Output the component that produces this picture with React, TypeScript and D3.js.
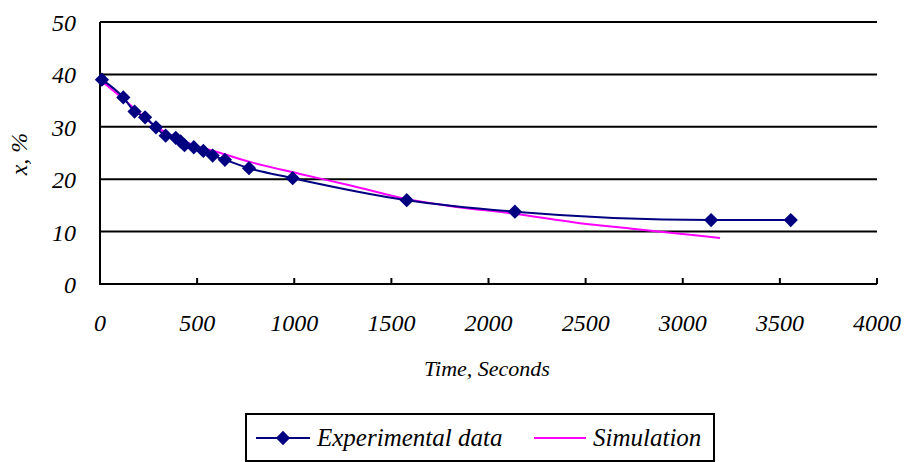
import * as d3 from 'd3';
import React from 'react';

// experimental points (time s, x %)
const expTime = [10, 120, 178, 232, 288, 338, 390, 415, 435, 483, 532, 580, 643, 767, 992, 1579, 2136, 3146, 3556];
const expX = [39.0, 35.6, 32.9, 31.8, 29.9, 28.3, 27.9, 27.2, 26.5, 26.1, 25.4, 24.5, 23.7, 22.1, 20.2, 16.0, 13.8, 12.2, 12.2];

// simulation curve
const simTime = [0, 120, 290, 464, 620, 772, 1030, 1290, 1580, 1800, 2136, 2471, 2728, 2986, 3192];
const simX = [39.0, 35.3, 30.0, 26.8, 25.0, 23.3, 21.0, 18.8, 16.2, 14.9, 13.4, 11.6, 10.6, 9.6, 8.8];

const xTicks = [0, 500, 1000, 1500, 2000, 2500, 3000, 3500, 4000];
const yTicks = [0, 10, 20, 30, 40, 50];

const NAVY = '#000080';
const PINK = '#ff00ff';
const FAM = 'Liberation Serif';

export default function App() {
  const x = d3.scaleLinear().domain([0, 4000]).range([100, 877]);
  const y = d3.scaleLinear().domain([0, 50]).range([284, 22]);

  const simLine = d3.line<number>()
    .x(i => x(simTime[i]))
    .y(i => y(simX[i]))
    .curve(d3.curveMonotoneX);
  const expLine = d3.line<number>()
    .x(i => x(expTime[i]))
    .y(i => y(expX[i]))
    .curve(d3.curveMonotoneX);
  const diamond = d3.symbol().type(d3.symbolDiamond2).size(130)();

  return (
    <svg width={905} height={462}
      style={{ position: 'absolute', left: 0, top: 0, background: '#fff' }}>
      {yTicks.filter(d => d > 0).map(d => (
        <line key={'g' + d} x1={x(0)} x2={x(4000)} y1={y(d)} y2={y(d)} stroke="#000" strokeWidth={2} />
      ))}
      <line x1={x(0)} x2={x(4000)} y1={y(0)} y2={y(0)} stroke="#000" strokeWidth={2} />
      <line x1={x(0)} x2={x(0)} y1={y(0) + 1} y2={y(50)} stroke="#000" strokeWidth={2} />
      {xTicks.filter(d => d > 0).map(d => (
        <line key={'t' + d} x1={x(d)} x2={x(d)} y1={y(0)} y2={y(0) - 6} stroke="#000" strokeWidth={2} />
      ))}
      {xTicks.map(d => (
        <text key={'xl' + d} x={x(d)} y={331} textAnchor="middle"
          fontFamily={FAM} fontStyle="italic" fontSize={24}>{String(d)}</text>
      ))}
      {yTicks.map(d => (
        <text key={'yl' + d} x={76} y={y(d) + 9} textAnchor="end"
          fontFamily={FAM} fontStyle="italic" fontSize={24}>{String(d)}</text>
      ))}
      <text transform="translate(27,154) rotate(-90)" textAnchor="middle"
        fontFamily={FAM} fontStyle="italic" fontSize={24}>x, %</text>
      <text x={487} y={376} textAnchor="middle"
        fontFamily={FAM} fontStyle="italic" fontSize={22}>Time, Seconds</text>

      <path d={simLine(d3.range(simTime.length)) || ''} fill="none" stroke={PINK} strokeWidth={2} />
      <path d={expLine(d3.range(expTime.length)) || ''} fill="none" stroke={NAVY} strokeWidth={2} />
      {expTime.map((t, i) => (
        <path key={'p' + i} d={diamond || ''} transform={`translate(${x(t)},${y(expX[i])})`} fill={NAVY} />
      ))}

      <rect x={246} y={414} width={468} height={47} fill="#fff" stroke="#000" strokeWidth={2} />
      <line x1={256} x2={310} y1={438} y2={438} stroke={NAVY} strokeWidth={2} />
      <path d={diamond || ''} transform="translate(283,438)" fill={NAVY} />
      <text x={317} y={446} fontFamily={FAM} fontStyle="italic" fontSize={25}>Experimental data</text>
      <line x1={534} x2={586} y1={438} y2={438} stroke={PINK} strokeWidth={2} />
      <text x={593} y={446} fontFamily={FAM} fontStyle="italic" fontSize={25}>Simulation</text>
    </svg>
  );
}
